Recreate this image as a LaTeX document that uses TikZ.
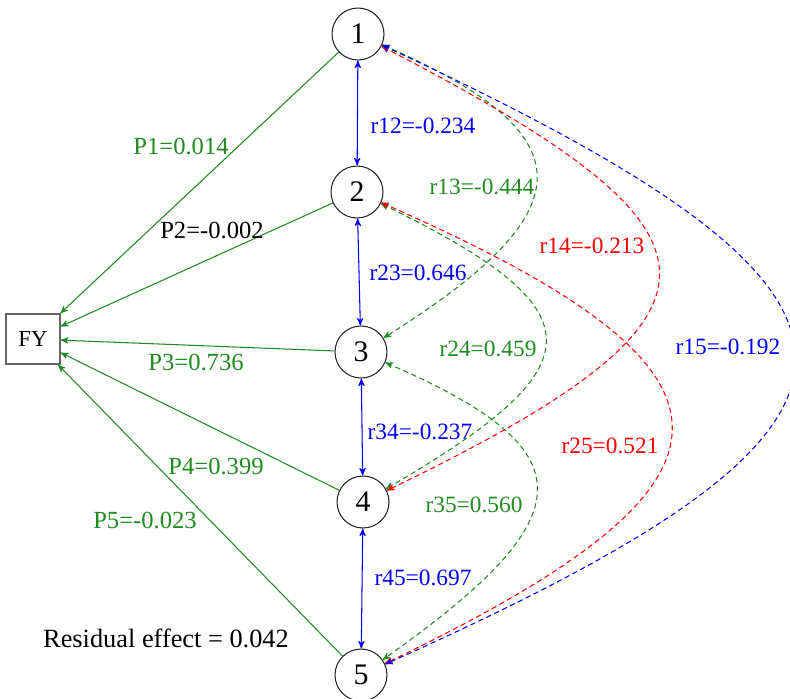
\documentclass[tikz,border=0pt]{standalone}
\usepackage{fontspec}
\setmainfont{Liberation Serif}
\usetikzlibrary{arrows}
\definecolor{pgreen}{RGB}{30,140,30}

\begin{document}
\begin{tikzpicture}[x=0.02cm, y=-0.02cm, >=stealth', line width=0.6pt]
        \tikzset{
            % Define style for trait circles
            trait/.style={
                    circle,
                    draw=black!85,
                    minimum size=1.04cm,
                    inner sep=0pt,
                    font=\fontsize{17}{20}\selectfont},
            % Define style for the yield box
            yield/.style={
                    rectangle,
                    draw=black!60, line width=0.9pt,
                    minimum width=1.08cm,
                    minimum height=1cm,
                    font=\fontsize{13}{15}\selectfont},
            % Define arrow styles
            direct/.style={->, pgreen},
            corr/.style={<->, blue},
            bow/.style={<->, dash pattern=on 3pt off 2pt},
            % Define label styles
            plab/.style={inner sep=0pt, font=\fontsize{14}{16}\selectfont},
            rlab/.style={inner sep=0pt, font=\fontsize{13.3}{15}\selectfont},
        }
        \useasboundingbox (0,0) rectangle (790,698);

        % Draw the traits
        \node[trait] (v1) at (358,34) {1};
        \node[trait] (v2) at (357,192) {2};
        \node[trait] (v3) at (361,352) {3};
        \node[trait] (v4) at (363,502) {4};
        \node[trait] (v5) at (361,675) {5};
        \node[yield] (fy) at (33,339) {FY};

        % Direct effects on FY
        \draw[direct] (v1) -- (fy);
        \draw[direct] (v2) -- (fy);
        \draw[direct] (v3) -- (fy);
        \draw[direct] (v4) -- (fy);
        \draw[direct] (v5) -- (fy);

        % Correlations between neighbours
        \draw[corr] (v1) -- (v2);
        \draw[corr] (v2) -- (v3);
        \draw[corr] (v3) -- (v4);
        \draw[corr] (v4) -- (v5);

        % Correlations further apart
        \draw[bow, pgreen] (v1) .. controls (588,135) and (588,210) .. (v3);
        \draw[bow, pgreen] (v2) .. controls (600,310) and (600,365) .. (v4);
        \draw[bow, pgreen] (v3) .. controls (588,450) and (588,515) .. (v5);
        \draw[bow, red] (v1) .. controls (740,232) and (761,310) .. (v4);
        \draw[bow, red] (v2) .. controls (768,372) and (768,480) .. (v5);
        \draw[bow, blue] (v1) .. controls (932,300) and (932,420) .. (v5);

        % Path coefficients
        \node[plab, pgreen] (p1) at (181,146) {P1=0.014};
        \node[plab] (p2) at (212,230) {P2=-0.002};
        \node[plab, pgreen] (p3) at (196,362) {P3=0.736};
        \node[plab, pgreen] (p4) at (216,466) {P4=0.399};
        \node[plab, pgreen] (p5) at (145,520) {P5=-0.023};

        % Correlation coefficients
        \node[rlab, blue] (r12) at (423,126) {r12=-0.234};
        \node[rlab, pgreen] (r13) at (482,187) {r13=-0.444};
        \node[rlab, red] (r14) at (592,246) {r14=-0.213};
        \node[rlab, blue] (r23) at (418,273) {r23=0.646};
        \node[rlab, pgreen] (r24) at (488,349) {r24=0.459};
        \node[rlab, blue] (r15) at (728,347) {r15=-0.192};
        \node[rlab, blue] (r34) at (420,432) {r34=-0.237};
        \node[rlab, red] (r25) at (610,446) {r25=0.521};
        \node[rlab, pgreen] (r35) at (474,505) {r35=0.560};
        \node[rlab, blue] (r45) at (423,578) {r45=0.697};

        \node[plab, font=\fontsize{15}{17}\selectfont] (res) at (166,638) {Residual effect = 0.042};

    \end{tikzpicture}
\end{document}
